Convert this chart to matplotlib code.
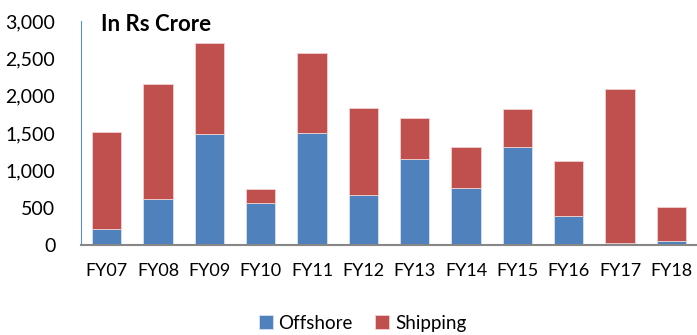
import numpy as np
import matplotlib.pyplot as plt

years = ["FY07", "FY08", "FY09", "FY10", "FY11", "FY12",
         "FY13", "FY14", "FY15", "FY16", "FY17", "FY18"]
offshore = [210, 612, 1482, 567, 1496, 665, 1147, 759, 1308, 393, 25, 50]
shipping = [1307, 1548, 1223, 179, 1075, 1165, 554, 558, 509, 728, 2064, 459]

plt.rcParams['font.family'] = ['Lato', 'DejaVu Sans']

fig = plt.figure(figsize=(6.97, 3.35), dpi=100)
ax = fig.add_axes([0.1162, 0.2687, 0.884, 0.6686])

x = np.arange(len(years))
w = 0.57
ax.bar(x, offshore, w, color="#4F81BD", edgecolor="#d6e2f0", linewidth=0.6, label="Offshore")
ax.bar(x, shipping, w, bottom=offshore, color="#C0504D", edgecolor="#f0d2d1",
       linewidth=0.6, label="Shipping")

ax.set_xlim(-0.5, len(years) - 0.5)
ax.set_ylim(0, 3000)
ax.set_yticks(range(0, 3001, 500))
ax.set_yticklabels([f"{v:,}" for v in range(0, 3001, 500)], fontsize=14)
ax.set_xticks(x)
ax.set_xticklabels(years, fontsize=13)
ax.tick_params(axis="y", length=0, pad=18.5)
ax.tick_params(axis="x", length=0, pad=13)

for s in ["top", "right"]:
    ax.spines[s].set_visible(False)
ax.spines["left"].set_color("#5b8fcc")
ax.spines["bottom"].set_color("#868686")
ax.spines["bottom"].set_linewidth(1.5)

ax.text(0.032, 0.985, "In Rs Crore", transform=ax.transAxes, fontsize=16,
        fontweight="bold", va="center", ha="left")

fig.legend(loc="lower center", bbox_to_anchor=(0.52, -0.04), ncol=2, frameon=False,
           fontsize=13.5, handlelength=0.75, handleheight=0.75, handletextpad=0.3,
           columnspacing=1.2)

fig.savefig("out.png", dpi=100)
